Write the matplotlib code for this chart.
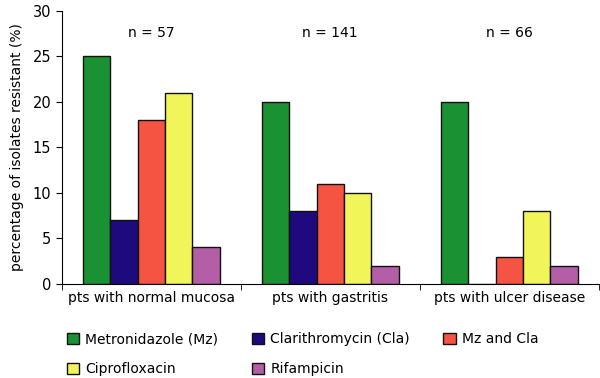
import numpy as np
import matplotlib
matplotlib.use("Agg")
import matplotlib.pyplot as plt

groups = ["pts with normal mucosa", "pts with gastritis", "pts with ulcer disease"]
n_labels = ["n = 57", "n = 141", "n = 66"]
drugs = ["Metronidazole (Mz)", "Clarithromycin (Cla)", "Mz and Cla", "Ciprofloxacin", "Rifampicin"]
colors = ["#1a9133", "#1e0a7e", "#f55442", "#f2f55a", "#b45ea8"]

metronidazole = [25, 20, 20]
clarithromycin = [7, 8, 0]
mz_and_cla = [18, 11, 3]
ciprofloxacin = [21, 10, 8]
rifampicin = [4, 2, 2]
values = [metronidazole, clarithromycin, mz_and_cla, ciprofloxacin, rifampicin]

plt.rcParams['font.family'] = ['DejaVu Sans']
fig = plt.figure(figsize=(6, 3.78), dpi=100)
ax = fig.add_axes([0.103, 0.249, 0.895, 0.722])

x = np.arange(len(groups))
w = 0.153
handles = []
for i, (vals, c) in enumerate(zip(values, colors)):
    b = ax.bar(x + (i - 2) * w, vals, w, color=c, edgecolor="#111111", linewidth=1.0,
               label=drugs[i], zorder=2)
    handles.append(b)

for xi, t in zip(x, n_labels):
    ax.text(xi, 27.6, t, ha="center", va="center", fontsize=10)

ax.set_xlim(-0.5, 2.5)
ax.set_ylim(0, 30)
ax.set_yticks([0, 5, 10, 15, 20, 25, 30])
ax.set_xticks(x)
ax.set_xticklabels(groups, fontsize=10)
ax.set_xticks([-0.5, 0.5, 1.5, 2.5], minor=True)
ax.tick_params(axis="x", which="major", length=0, pad=5)
ax.tick_params(axis="x", which="minor", length=4, direction="out")
ax.tick_params(axis="y", labelsize=10.5, length=4, direction="out")
ax.set_ylabel("percentage of isolates resistant (%)", fontsize=10, labelpad=6)
ax.spines["top"].set_visible(False)
ax.spines["right"].set_visible(False)

order = [0, 3, 1, 4, 2]
fig.legend([handles[k] for k in order], [drugs[k] for k in order], ncol=3,
           loc="lower left", bbox_to_anchor=(0.09, -0.029), frameon=False, fontsize=10,
           handlelength=0.9, handleheight=0.9, handletextpad=0.45, columnspacing=2.4,
           labelspacing=1.15)

fig.savefig("out.png", dpi=100)
